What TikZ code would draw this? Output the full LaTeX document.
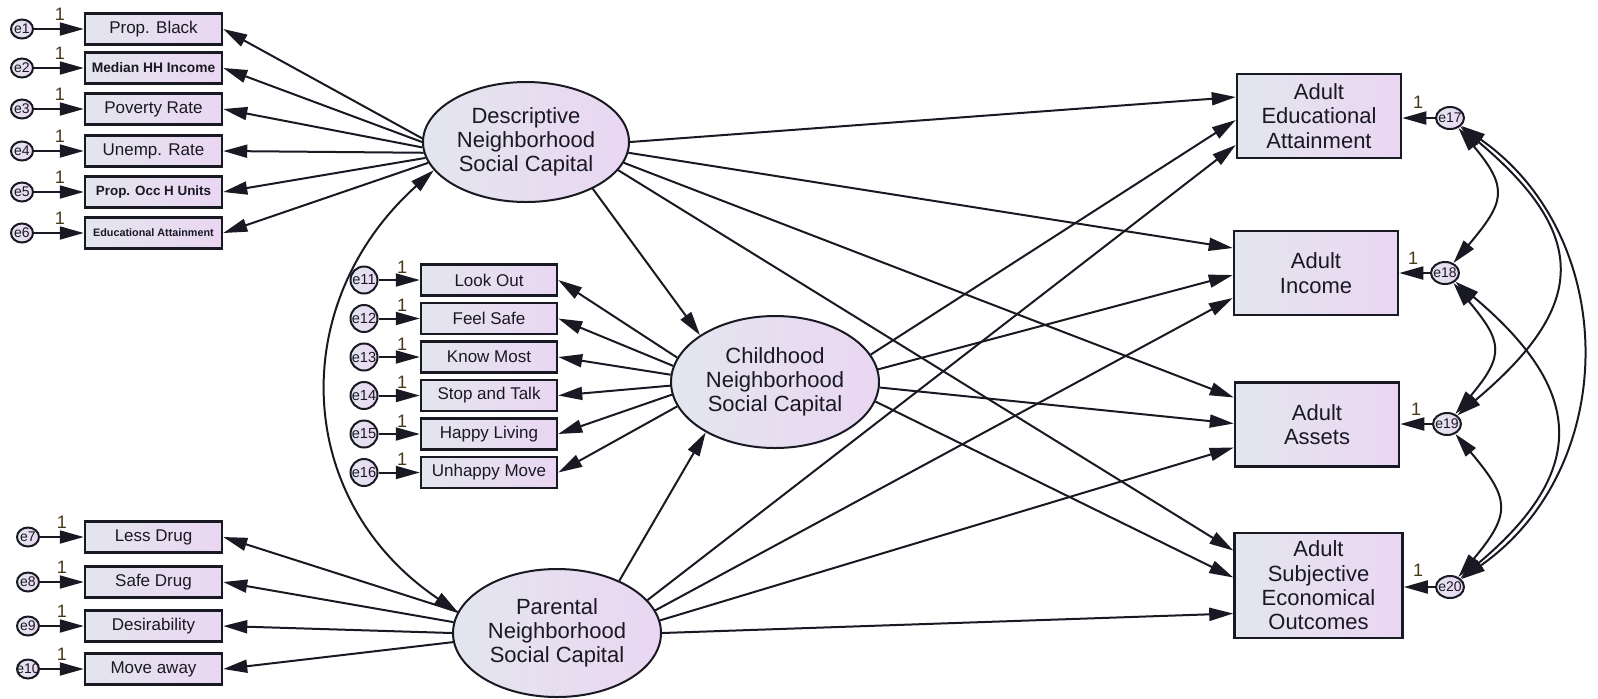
\documentclass[tikz,border=0pt]{standalone}
\usepackage{fontspec}
\setmainfont{Liberation Sans}
\usetikzlibrary{arrows.meta,shapes.geometric,calc}

\definecolor{shadeL}{RGB}{227,230,238}
\definecolor{shadeR}{RGB}{234,214,242}
\definecolor{ink}{RGB}{25,25,35}
\definecolor{onecol}{RGB}{70,55,25}

\begin{document}
\begin{tikzpicture}[x=0.5pt,y=-0.5pt,
  >={Triangle[length=12pt,width=6.5pt]},
  obs/.style={rectangle, draw=ink, line width=1.25pt, left color=shadeL, right color=shadeR, inner sep=0pt, text=ink},
  ind/.style={obs, minimum width=68.5pt, minimum height=15.5pt, font=\fontsize{8.5}{10}\selectfont},
  outc/.style={obs, minimum width=82pt, minimum height=42pt, align=center, font=\fontsize{11}{12.2}\selectfont},
  latent/.style={ellipse, draw=ink, line width=1pt, left color=shadeL, right color=shadeR, inner sep=0pt, align=center, text=ink, font=\fontsize{11}{12}\selectfont},
  errsmall/.style={ellipse, draw=ink, line width=1pt, left color=shadeL, right color=shadeR, inner sep=0pt, minimum width=11pt, minimum height=9.5pt},
  errmid/.style={circle, draw=ink, line width=1pt, left color=shadeL, right color=shadeR, inner sep=0pt, minimum size=13.5pt},
  errright/.style={ellipse, draw=ink, line width=1pt, left color=shadeL, right color=shadeR, inner sep=0pt, minimum width=14pt, minimum height=11pt},
  etxt/.style={font=\fontsize{7}{8}\selectfont, text=ink, inner sep=0pt},
  etxtm/.style={font=\fontsize{7.3}{8}\selectfont, text=ink, inner sep=0pt},
  one/.style={font=\fontsize{9}{10}\selectfont, text=onecol, inner sep=0pt},
  path/.style={draw=ink, line width=1pt, ->},
  cov/.style={draw=ink, line width=1pt, <->}]

\fill[white] (0,0) rectangle (1598,698);
\useasboundingbox (0,0) rectangle (1598,698);

% ---------- indicators of the descriptive factor ----------
\node[ind] (pb) at (153.5,29) {Prop. Black};
\node[ind, font=\bfseries\fontsize{6.9}{8}\selectfont] (mhh) at (153.5,68) {Median HH Income};
\node[ind] (pov) at (153.5,109) {Poverty Rate};
\node[ind] (une) at (153.5,151) {Unemp. Rate};
\node[ind, font=\bfseries\fontsize{6.7}{8}\selectfont] (occ) at (153.5,192) {Prop. Occ H Units};
\node[ind, font=\bfseries\fontsize{5.4}{7}\selectfont] (edu) at (153.5,233) {Educational Attainment};

\node[errsmall, label={[etxt]center:e1}] (e1) at (22,29) {};
\node[errsmall, label={[etxt]center:e2}] (e2) at (22,68) {};
\node[errsmall, label={[etxt]center:e3}] (e3) at (22,109) {};
\node[errsmall, label={[etxt]center:e4}] (e4) at (22,151) {};
\node[errsmall, label={[etxt]center:e5}] (e5) at (22,192) {};
\node[errsmall, label={[etxt]center:e6}] (e6) at (22,233) {};

% ---------- indicators of the parental factor ----------
\node[ind] (ld) at (153.5,537) {Less Drug};
\node[ind] (sd) at (153.5,582) {Safe Drug};
\node[ind] (des) at (153.5,626) {Desirability};
\node[ind] (mov) at (153.5,669) {Move away};

\node[errsmall, label={[etxt]center:e7}] (e7) at (28,537) {};
\node[errsmall, label={[etxt]center:e8}] (e8) at (28,582) {};
\node[errsmall, label={[etxt]center:e9}] (e9) at (28,626) {};
\node[errsmall, label={[etxt]center:e10}] (e10) at (28,669) {};

% ---------- indicators of the childhood factor ----------
\node[ind, minimum width=68pt] (lo) at (489,280) {Look Out};
\node[ind, minimum width=68pt] (fs) at (489,318.5) {Feel Safe};
\node[ind, minimum width=68pt] (km) at (489,357) {Know Most};
\node[ind, minimum width=68pt] (st) at (489,395.5) {Stop and Talk};
\node[ind, minimum width=68pt] (hl) at (489,434) {Happy Living};
\node[ind, minimum width=68pt] (um) at (489,472.5) {Unhappy Move};

\node[errmid, label={[etxtm]center:e11}] (e11) at (364,280) {};
\node[errmid, label={[etxtm]center:e12}] (e12) at (364,318.5) {};
\node[errmid, label={[etxtm]center:e13}] (e13) at (364,357) {};
\node[errmid, label={[etxtm]center:e14}] (e14) at (364,395.5) {};
\node[errmid, label={[etxtm]center:e15}] (e15) at (364,434) {};
\node[errmid, label={[etxtm]center:e16}] (e16) at (364,472.5) {};

% ---------- latent factors ----------
\node[latent, minimum width=103pt, minimum height=60pt] (D) at (526,142) {Descriptive\\Neighborhood\\Social Capital};
\node[latent, minimum width=104pt, minimum height=66pt] (C) at (775,382) {Childhood\\Neighborhood\\Social Capital};
\node[latent, minimum width=104pt, minimum height=64pt] (P) at (557,633) {Parental\\Neighborhood\\Social Capital};

% ---------- outcomes ----------
\node[outc] (AE) at (1319,116) {Adult\\Educational\\Attainment};
\node[outc] (AI) at (1316,273) {Adult\\Income};
\node[outc] (AA) at (1317,424.5) {Adult\\Assets};
\node[outc, minimum width=84pt, minimum height=52.5pt] (AS) at (1318.5,585.5) {Adult\\Subjective\\Economical\\Outcomes};

\node[errright, label={[etxt]center:e17}] (e17) at (1450,118) {};
\node[errright, label={[etxt]center:e18}] (e18) at (1445,273) {};
\node[errright, label={[etxt]center:e19}] (e19) at (1447,424) {};
\node[errright, label={[etxt]center:e20}] (e20) at (1450,587) {};

% ---------- fixed loadings of the error terms ----------
\node[one] (n1) at (60,14) {1};
\node[one] (n2) at (60,53) {1};
\node[one] (n3) at (60,94) {1};
\node[one] (n4) at (60,136) {1};
\node[one] (n5) at (60,177) {1};
\node[one] (n6) at (60,218) {1};
\node[one] (n7) at (62,522) {1};
\node[one] (n8) at (62,567) {1};
\node[one] (n9) at (62,611) {1};
\node[one] (n10) at (62,654) {1};
\node[one] (n11) at (402,267) {1};
\node[one] (n12) at (402,305.5) {1};
\node[one] (n13) at (402,344) {1};
\node[one] (n14) at (402,382.5) {1};
\node[one] (n15) at (402,421) {1};
\node[one] (n16) at (402,459.5) {1};
\node[one] (n17) at (1418,102) {1};
\node[one] (n18) at (1413,258) {1};
\node[one] (n19) at (1416,409) {1};
\node[one] (n20) at (1418,570) {1};

% error terms into indicators
\foreach \e/\b in {e1/pb,e2/mhh,e3/pov,e4/une,e5/occ,e6/edu,e7/ld,e8/sd,e9/des,e10/mov,
                   e11/lo,e12/fs,e13/km,e14/st,e15/hl,e16/um}
  \draw[path] (\e) -- (\b);
\draw[path] (e17) -- (e17 -| AE.east);
\draw[path] (e18) -- (e18 -| AI.east);
\draw[path] (e19) -- (e19 -| AA.east);
\draw[path] (e20) -- (e20 -| AS.east);

% loadings of the descriptive factor
\draw[path] (D.178) -- (pb.east);
\draw[path] (D.180) -- (mhh.east);
\draw[path] (D.183) -- (pov.east);
\draw[path] (D.186) -- (une.east);
\draw[path] (D.189) -- (occ.east);
\draw[path] (D.192) -- (edu.east);

% loadings of the childhood factor
\draw[path] (C.166) -- (lo.east);
\draw[path] (C.171) -- (fs.east);
\draw[path] (C.176) -- (km.east);
\draw[path] (C.182) -- (st.east);
\draw[path] (C.187) -- (hl.east);
\draw[path] (C.194) -- (um.east);

% loadings of the parental factor
\draw[path] (P.168) -- (ld.east);
\draw[path] (P.174) -- (sd.east);
\draw[path] (P.180) -- (des.east);
\draw[path] (P.185) -- (mov.east);

% structural paths between factors
\draw[cov] (D.197) to[out=222, in=146, looseness=1.15] (P.168);
\draw[path] (D.-35) -- (C.148);
\draw[path] (P.40) -- (C.216);

% paths to the adult outcomes
\draw[path] (D.0)   -- ($(AE.west)+(0,-19)$);
\draw[path] (D.-6)  -- ($(AI.west)+(0,-25)$);
\draw[path] (D.-12) -- ($(AA.west)+(0,-27)$);
\draw[path] (D.-17) -- ($(AS.west)+(0,-35)$);

\draw[path] (C.16)  -- ($(AE.west)+(0,4)$);
\draw[path] (C.7)   -- ($(AI.west)+(0,2)$);
\draw[path] (C.-3)  -- ($(AA.west)+(0,-1)$);
\draw[path] (C.-11) -- ($(AS.west)+(0,-8)$);

\draw[path] (P.20)  -- ($(AE.west)+(0,29)$);
\draw[path] (P.13)  -- ($(AI.west)+(0,25)$);
\draw[path] (P.7)   -- ($(AA.west)+(0,23)$);
\draw[path] (P.0)   -- ($(AS.west)+(0,28)$);

% covariances among the outcome residuals
\draw[cov] (e17) to[out=-50, in=50, looseness=1.5] (e18);
\draw[cov] (e17) to[out=-40, in=40, looseness=1.5] (e19);
\draw[cov] (e17) to[out=-35, in=35, looseness=1.1] (e20);
\draw[cov] (e18) to[out=-50, in=50, looseness=1.5] (e19);
\draw[cov] (e18) to[out=-40, in=40, looseness=1.45] (e20);
\draw[cov] (e19) to[out=-50, in=50, looseness=1.5] (e20);

\end{tikzpicture}
\end{document}
